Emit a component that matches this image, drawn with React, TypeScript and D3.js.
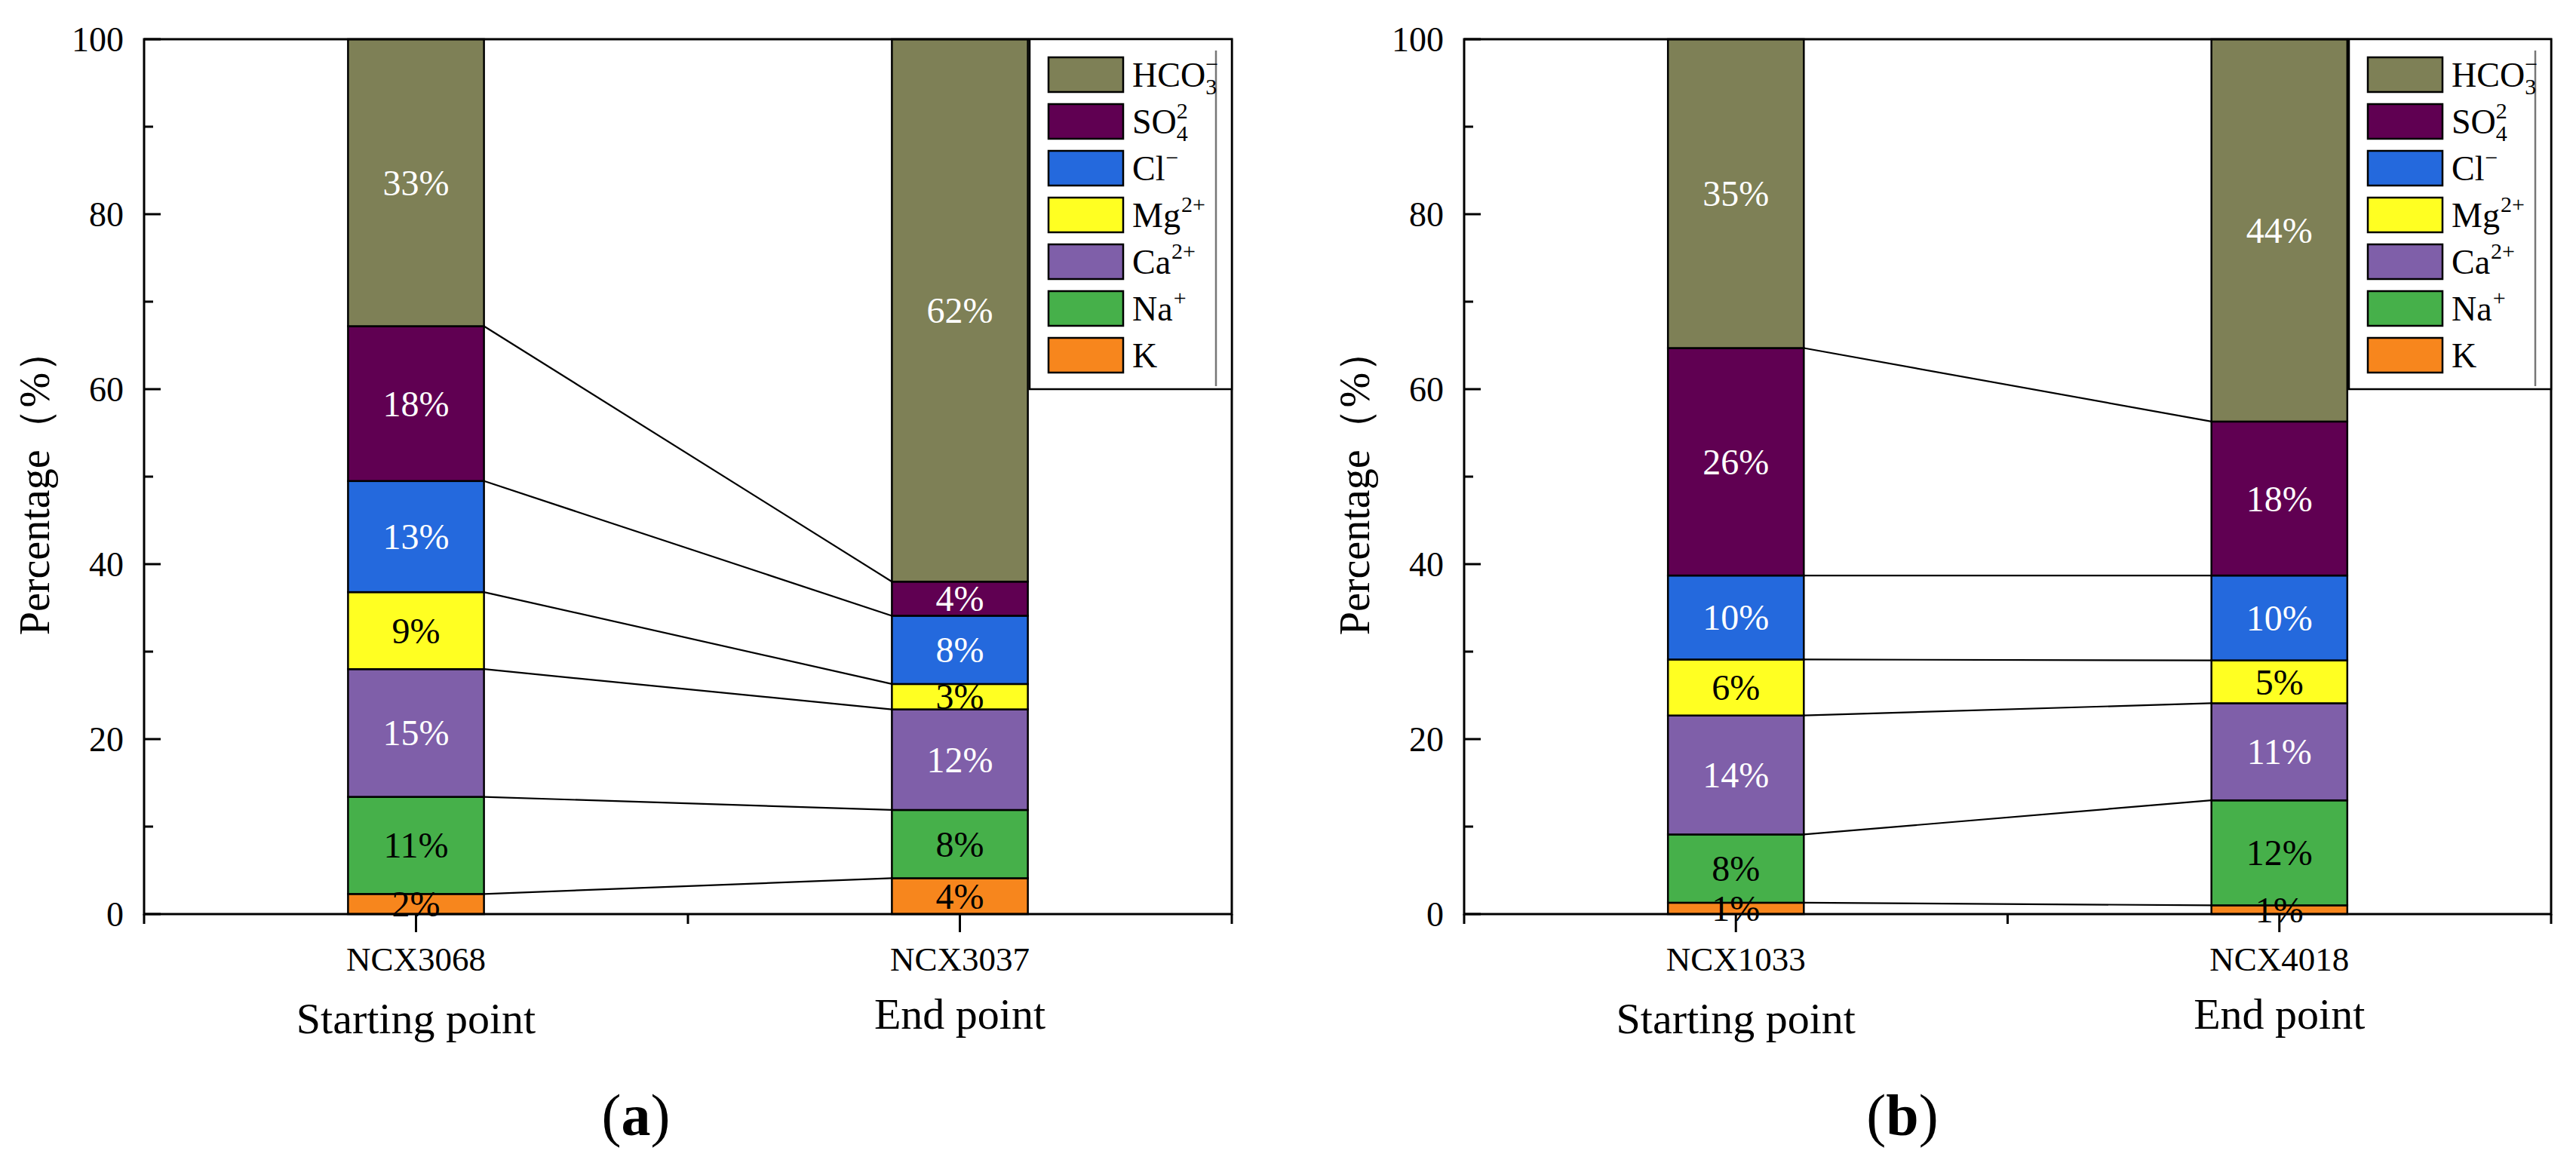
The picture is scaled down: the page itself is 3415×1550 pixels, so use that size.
import React from "react";
import * as d3 from "d3";

// ions from bottom of the stack to the top
const ions = ["K", "Na", "Ca", "Mg", "Cl", "SO4", "HCO3"];
const ionColors = ["#f7861d", "#46b04a", "#7f5fa9", "#ffff22", "#2469dd", "#600052", "#7e8056"];
const ionInk = ["#000", "#000", "#fff", "#000", "#fff", "#fff", "#fff"];

// legend text pieces (top row first)
const legendBase = ["HCO", "SO", "Cl", "Mg", "Ca", "Na", "K"];
const legendSub = ["3", "4", "", "", "", "", ""];
const legendSup = ["\u2212", "2", "\u2212", "2+", "2+", "+", ""];

const samplesA = ["NCX3068", "NCX3037"];
const startA = [2.3, 11.1, 14.6, 8.8, 12.7, 17.7, 32.8];
const endA = [4.1, 7.8, 11.5, 2.9, 7.8, 3.9, 62.0];

const samplesB = ["NCX1033", "NCX4018"];
const startB = [1.3, 7.8, 13.6, 6.4, 9.6, 26.0, 35.3];
const endB = [1.0, 12.0, 11.1, 4.9, 9.7, 17.6, 43.7];

const pointNames = ["Starting point", "End point"];
const yTicks = [0, 20, 40, 60, 80, 100];
const yMinor = [10, 30, 50, 70, 90];
const xMinor = [0.5, 1.5, 2.5];

const W = 3415;
const H = 1550;
const TOP = 52;
const BOTTOM = 1212;
const SERIF = "'Liberation Serif', 'Times New Roman', serif";

interface PanelProps {
  left: number;
  right: number;
  samples: string[];
  values: number[][];
  tag: string;
  tagX: number;
}

const Panel: React.FC<PanelProps> = ({ left, right, samples, values, tag, tagX }) => {
  const x = d3.scaleLinear().domain([0.5, 2.5]).range([left, right]);
  const y = d3.scaleLinear().domain([0, 100]).range([BOTTOM, TOP]);
  const barW = x(1.125) - x(0.875);

  const rows = samples.map((s, i) => {
    const r: Record<string, number> = {};
    ions.forEach((k, j) => (r[k] = values[i][j]));
    return r;
  });
  const series = d3.stack<Record<string, number>>().keys(ions)(rows);

  const lgLeft = right - 268;
  const lgStep = 62;
  const lgTop = 76;
  const lgBottom = lgTop + 6 * lgStep + 46 + 22;

  return (
    <g fontFamily={SERIF}>
      {/* stacked bars */}
      {series.map((s, j) =>
        s.map((d, i) => (
          <rect
            key={`b${j}-${i}`}
            x={x(i + 1) - barW / 2}
            y={y(d[1])}
            width={barW}
            height={y(d[0]) - y(d[1])}
            fill={ionColors[j]}
            stroke="#000"
            strokeWidth={2.5}
          />
        ))
      )}
      {/* connecting lines between segment tops */}
      {series.slice(0, ions.length - 1).map((s, j) => (
        <line
          key={`c${j}`}
          x1={x(1) + barW / 2}
          y1={y(s[0][1])}
          x2={x(2) - barW / 2}
          y2={y(s[1][1])}
          stroke="#000"
          strokeWidth={2.2}
        />
      ))}
      {/* percentage labels */}
      {series.map((s, j) =>
        s.map((d, i) => (
          <text
            key={`t${j}-${i}`}
            x={x(i + 1)}
            y={y((d[0] + d[1]) / 2)}
            textAnchor="middle"
            dominantBaseline="central"
            fontSize={48}
            fill={ionInk[j]}
          >
            {Math.round(d[1] - d[0])}%
          </text>
        ))
      )}
      {/* frame */}
      <rect x={left} y={TOP} width={right - left} height={BOTTOM - TOP} fill="none" stroke="#000" strokeWidth={3} />
      {/* y ticks */}
      {yTicks.map((t) => (
        <g key={`y${t}`}>
          <line x1={left} x2={left + 22} y1={y(t)} y2={y(t)} stroke="#000" strokeWidth={3} />
          <text x={left - 27} y={y(t)} textAnchor="end" dominantBaseline="central" fontSize={46}>
            {t}
          </text>
        </g>
      ))}
      {yMinor.map((t) => (
        <line key={`ym${t}`} x1={left} x2={left + 12} y1={y(t)} y2={y(t)} stroke="#000" strokeWidth={3} />
      ))}
      {/* x ticks */}
      {samples.map((s, i) => (
        <g key={`x${s}`}>
          <line x1={x(i + 1)} x2={x(i + 1)} y1={BOTTOM} y2={BOTTOM + 24} stroke="#000" strokeWidth={3} />
          <text x={x(i + 1)} y={1287} textAnchor="middle" fontSize={45}>
            {s}
          </text>
          <text x={x(i + 1)} y={i === 0 ? 1370 : 1364} textAnchor="middle" fontSize={58}>
            {pointNames[i]}
          </text>
        </g>
      ))}
      {xMinor.map((t) => (
        <line key={`xm${t}`} x1={x(t)} x2={x(t)} y1={BOTTOM} y2={BOTTOM + 13} stroke="#000" strokeWidth={3} />
      ))}
      {/* y title */}
      <text
        transform={`translate(${left - 126},${(TOP + BOTTOM) / 2 + 8}) rotate(-90)`}
        textAnchor="middle"
        fontSize={56}
      >
        Percentage（%）
      </text>
      {/* legend */}
      <rect x={lgLeft} y={TOP} width={right - lgLeft} height={lgBottom - TOP} fill="#fff" stroke="#000" strokeWidth={2.5} />
      <line x1={right - 21} x2={right - 21} y1={67} y2={lgBottom - 4} stroke="#777" strokeWidth={2.5} />
      {legendBase.map((b, r) => {
        const j = ions.length - 1 - r;
        const ty = lgTop + r * lgStep;
        return (
          <g key={`lg${r}`}>
            <rect x={lgLeft + 25} y={ty} width={99} height={46} fill={ionColors[j]} stroke="#000" strokeWidth={2.5} />
            <text x={lgLeft + 136} y={ty + 39} fontSize={46}>
              {b}
              {legendSub[r] && (
                <tspan fontSize={30} dy={10}>
                  {legendSub[r]}
                </tspan>
              )}
              {legendSup[r] && (
                <tspan fontSize={30} dx={legendSub[r] ? -15 : 1} dy={legendSub[r] ? -30 : -20}>
                  {legendSup[r]}
                </tspan>
              )}
            </text>
          </g>
        );
      })}
      {/* panel tag */}
      <text x={tagX} y={1505} textAnchor="middle" fontSize={78}>
        (<tspan fontWeight="bold">{tag}</tspan>)
      </text>
    </g>
  );
};

const App: React.FC = () => {
  return (
    <svg
      width={W}
      height={H}
      viewBox={`0 0 ${W} ${H}`}
      style={{ position: "absolute", left: 0, top: 0, background: "#fff" }}
    >
      <rect width={W} height={H} fill="#fff" />
      <Panel left={191} right={1633} samples={samplesA} values={[startA, endA]} tag="a" tagX={843} />
      <Panel left={1941} right={3382} samples={samplesB} values={[startB, endB]} tag="b" tagX={2522} />
    </svg>
  );
};

export default App;
